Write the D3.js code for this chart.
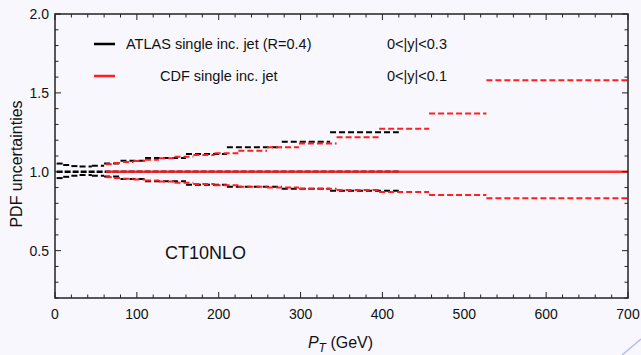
<!DOCTYPE html>
<html>
<head>
<meta charset="utf-8">
<script src="https://cdn.jsdelivr.net/npm/d3@7"></script>
<style>
  body { margin: 0; background: #f8f7fd; }
  svg { display: block; font-family: "Liberation Sans", Arial, sans-serif; }
</style>
</head>
<body>
<svg id="chart" width="641" height="355"></svg>
<script>
// ATLAS single inclusive jet, R=0.4, 0<|y|<0.3 (bin edges in GeV)
const atlasEdges = [2, 10, 20, 30, 45, 60, 80, 110, 160, 210, 277, 336, 420];
const atlasUp = [1.052, 1.043, 1.036, 1.033, 1.038, 1.052, 1.07, 1.088, 1.112, 1.155, 1.19, 1.25];
const atlasDn = [0.960, 0.968, 0.975, 0.979, 0.975, 0.970, 0.955, 0.940, 0.918, 0.905, 0.892, 0.880];

// CDF single inclusive jet, 0<|y|<0.1
const cdfEdges = [62, 72, 83, 96, 110, 127, 146, 169, 195, 224, 259, 298, 344, 396, 457, 527, 700];
const cdfUp = [1.048, 1.055, 1.062, 1.068, 1.076, 1.085, 1.096, 1.106, 1.117, 1.134, 1.155, 1.18, 1.219, 1.273, 1.37, 1.58];
const cdfDn = [0.966, 0.961, 0.956, 0.951, 0.945, 0.938, 0.930, 0.922, 0.914, 0.905, 0.900, 0.893, 0.885, 0.872, 0.853, 0.832];

const xTicks = [0, 100, 200, 300, 400, 500, 600, 700];
const yTicks = [0.5, 1.0, 1.5, 2.0];

const margin = { left: 55, right: 13, top: 14, bottom: 57 };
const W = 641, H = 355;

const svg = d3.select("#chart");

const x = d3.scaleLinear().domain([0, 700]).range([margin.left, W - margin.right]);
const y = d3.scaleLinear().domain([0.2, 2.0]).range([H - margin.bottom, margin.top]);

const RED = "#ff1f1f";

// bins -> segments
function segs(edges, vals) {
  return vals.map((v, i) => ({ x0: edges[i], x1: edges[i + 1], v: v }));
}

function drawBand(edges, up, dn, color) {
  const g = svg.append("g");
  [up, dn].forEach(vals => {
    g.selectAll(null)
      .data(segs(edges, vals))
      .enter().append("line")
      .attr("x1", d => x(d.x0))
      .attr("x2", d => x(d.x1))
      .attr("y1", d => y(d.v))
      .attr("y2", d => y(d.v))
      .attr("stroke", color)
      .attr("stroke-width", 2)
      .attr("stroke-dasharray", "6,3");
  });
  return g;
}

// ATLAS first, CDF on top
drawBand(atlasEdges, atlasUp, atlasDn, "#000");
svg.append("line") // ATLAS central
  .attr("x1", x(atlasEdges[0])).attr("x2", x(atlasEdges[atlasEdges.length - 1]))
  .attr("y1", y(1)).attr("y2", y(1))
  .attr("stroke", "#000").attr("stroke-width", 2.5)
  .attr("stroke-dasharray", "6,2");

drawBand(cdfEdges, cdfUp, cdfDn, RED);
svg.append("line") // CDF central
  .attr("x1", x(cdfEdges[0])).attr("x2", x(cdfEdges[cdfEdges.length - 1]))
  .attr("y1", y(1)).attr("y2", y(1))
  .attr("stroke", RED).attr("stroke-width", 2.5)
  .attr("opacity", 0.9);

// frame
const x0 = x.range()[0], x1 = x.range()[1], y0 = y.range()[0], y1 = y.range()[1];
svg.append("rect")
  .attr("x", x0).attr("y", y1)
  .attr("width", x1 - x0).attr("height", y0 - y1)
  .attr("fill", "none").attr("stroke", "#222").attr("stroke-width", 1.5);

// ticks (inward, all sides)
const tk = svg.append("g").attr("stroke", "#222").attr("stroke-width", 1);
const xMinor = d3.range(0, 701, 20);
xMinor.forEach(v => {
  const len = v % 100 === 0 ? 6 : 3.5;
  tk.append("line").attr("x1", x(v)).attr("x2", x(v)).attr("y1", y0).attr("y2", y0 - len);
  tk.append("line").attr("x1", x(v)).attr("x2", x(v)).attr("y1", y1).attr("y2", y1 + len);
});
const yMinor = d3.range(2, 21).map(d => d / 10);
yMinor.forEach(v => {
  const len = Math.abs(v * 2 - Math.round(v * 2)) < 1e-6 ? 6 : 3.5;
  tk.append("line").attr("x1", x0).attr("x2", x0 + len).attr("y1", y(v)).attr("y2", y(v));
  tk.append("line").attr("x1", x1).attr("x2", x1 - len).attr("y1", y(v)).attr("y2", y(v));
});

// tick labels
svg.append("g").selectAll("text")
  .data(xTicks).enter().append("text")
  .attr("x", d => x(d)).attr("y", y0 + 21)
  .attr("text-anchor", "middle")
  .attr("font-size", 14).attr("fill", "#111")
  .text(d => d);

svg.append("g").selectAll("text")
  .data(yTicks).enter().append("text")
  .attr("x", x0 - 6).attr("y", d => y(d) + 5)
  .attr("text-anchor", "end")
  .attr("font-size", 14).attr("fill", "#111")
  .text(d => d3.format(".1f")(d));

// axis titles
svg.append("text")
  .attr("transform", `translate(22,${(y0 + y1) / 2 + 8}) rotate(-90)`)
  .attr("text-anchor", "middle")
  .attr("font-size", 16).attr("fill", "#111")
  .text("PDF uncertainties");

const xt = svg.append("text")
  .attr("x", (x0 + x1) / 2 - 1).attr("y", 348)
  .attr("text-anchor", "middle")
  .attr("font-size", 16).attr("fill", "#111");
xt.append("tspan").attr("font-style", "italic").text("P");
xt.append("tspan").attr("font-style", "italic").attr("font-size", 12).attr("dy", 4).text("T");
xt.append("tspan").attr("dy", -4).text(" (GeV)");

// legend
const legend = [
  { color: "#000", label: "ATLAS single inc. jet (R=0.4)", lx: 126, range: "0<|y|<0.3", y: 44 },
  { color: RED, label: "CDF single inc. jet", lx: 160, range: "0<|y|<0.1", y: 76 }
];
const lg = svg.append("g").selectAll("g").data(legend).enter().append("g");
lg.append("line")
  .attr("x1", 94).attr("x2", 115)
  .attr("y1", d => d.y).attr("y2", d => d.y)
  .attr("stroke", d => d.color).attr("stroke-width", 2.5);
lg.append("text")
  .attr("x", d => d.lx).attr("y", d => d.y + 5)
  .attr("font-size", 14.5).attr("fill", "#111")
  .text(d => d.label);
lg.append("text")
  .attr("x", 387).attr("y", d => d.y + 5)
  .attr("font-size", 14.5).attr("fill", "#111")
  .text(d => d.range);

svg.append("text")
  .attr("x", 165).attr("y", 259)
  .attr("font-size", 18).attr("fill", "#111")
  .text("CT10NLO");

// faint page-corner stroke
svg.append("line")
  .attr("x1", 622).attr("y1", 355).attr("x2", 641).attr("y2", 339)
  .attr("stroke", "#b4bcf2").attr("stroke-width", 1.5);
</script>
</body>
</html>
